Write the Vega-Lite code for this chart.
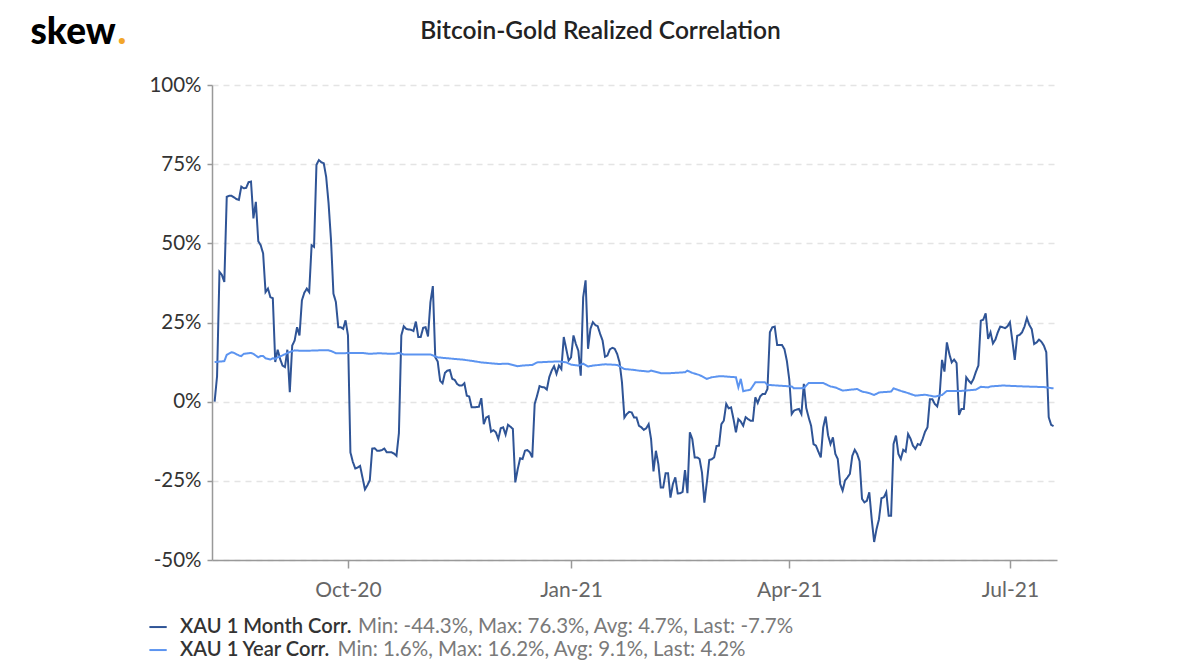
{
"$schema": "https://vega.github.io/schema/vega-lite/v6.json",
"autosize": "none",
"width": 845,
"height": 475,
"padding": {"left": 212, "top": 85, "right": 143, "bottom": 110},
"background": "white",
"config": {"font": "Lato", "view": {"stroke": null}},
"title": {"text": "Bitcoin-Gold Realized Correlation", "anchor": "middle", "frame": "group", "dx": -34, "dy": 31, "offset": 0, "font": "Lato", "fontSize": 24.5, "fontWeight": 600, "color": "#222"},
"data": {"values": [
{"date":"2020-08-07","series":"M","value":0},{"date":"2020-08-08","series":"M","value":8},{"date":"2020-08-09","series":"M","value":41},{"date":"2020-08-10","series":"M","value":40},{"date":"2020-08-11","series":"M","value":37.8},{"date":"2020-08-12","series":"M","value":64.7},{"date":"2020-08-13","series":"M","value":65},{"date":"2020-08-14","series":"M","value":65},{"date":"2020-08-15","series":"M","value":64.5},{"date":"2020-08-16","series":"M","value":64},{"date":"2020-08-17","series":"M","value":63.7},{"date":"2020-08-18","series":"M","value":67.9},{"date":"2020-08-19","series":"M","value":67.4},{"date":"2020-08-20","series":"M","value":67.5},{"date":"2020-08-21","series":"M","value":69.3},{"date":"2020-08-22","series":"M","value":69.5},{"date":"2020-08-23","series":"M","value":57.9},{"date":"2020-08-24","series":"M","value":63.1},{"date":"2020-08-25","series":"M","value":50.7},{"date":"2020-08-26","series":"M","value":49.4},{"date":"2020-08-27","series":"M","value":46.8},{"date":"2020-08-28","series":"M","value":34.6},{"date":"2020-08-29","series":"M","value":35.7},{"date":"2020-08-30","series":"M","value":33},{"date":"2020-08-31","series":"M","value":32.7},
{"date":"2020-09-01","series":"M","value":12.5},{"date":"2020-09-02","series":"M","value":16.4},{"date":"2020-09-03","series":"M","value":13.5},{"date":"2020-09-04","series":"M","value":11.4},{"date":"2020-09-05","series":"M","value":10.9},{"date":"2020-09-06","series":"M","value":16.4},{"date":"2020-09-07","series":"M","value":3},{"date":"2020-09-08","series":"M","value":17.7},{"date":"2020-09-09","series":"M","value":19.3},{"date":"2020-09-10","series":"M","value":23.5},{"date":"2020-09-11","series":"M","value":20.9},{"date":"2020-09-12","series":"M","value":32},{"date":"2020-09-13","series":"M","value":34.4},{"date":"2020-09-14","series":"M","value":35.7},{"date":"2020-09-15","series":"M","value":34.6},{"date":"2020-09-16","series":"M","value":49.4},{"date":"2020-09-17","series":"M","value":48.9},{"date":"2020-09-18","series":"M","value":74.8},{"date":"2020-09-19","series":"M","value":76.3},{"date":"2020-09-20","series":"M","value":75.6},{"date":"2020-09-21","series":"M","value":75.3},{"date":"2020-09-22","series":"M","value":71},{"date":"2020-09-23","series":"M","value":62.6},{"date":"2020-09-24","series":"M","value":51},{"date":"2020-09-25","series":"M","value":34.1},{"date":"2020-09-26","series":"M","value":31.5},{"date":"2020-09-27","series":"M","value":23.5},{"date":"2020-09-28","series":"M","value":23.5},{"date":"2020-09-29","series":"M","value":23},{"date":"2020-09-30","series":"M","value":25.7},
{"date":"2020-10-01","series":"M","value":20.9},{"date":"2020-10-02","series":"M","value":-16},{"date":"2020-10-03","series":"M","value":-19},{"date":"2020-10-04","series":"M","value":-21.1},{"date":"2020-10-05","series":"M","value":-20.8},{"date":"2020-10-06","series":"M","value":-20.3},{"date":"2020-10-07","series":"M","value":-24},{"date":"2020-10-08","series":"M","value":-27.7},{"date":"2020-10-09","series":"M","value":-26.4},{"date":"2020-10-10","series":"M","value":-24.8},{"date":"2020-10-11","series":"M","value":-14.8},{"date":"2020-10-12","series":"M","value":-14.7},{"date":"2020-10-13","series":"M","value":-15.5},{"date":"2020-10-14","series":"M","value":-15.5},{"date":"2020-10-15","series":"M","value":-15.3},{"date":"2020-10-16","series":"M","value":-14.8},{"date":"2020-10-17","series":"M","value":-16},{"date":"2020-10-18","series":"M","value":-16},{"date":"2020-10-19","series":"M","value":-16},{"date":"2020-10-20","series":"M","value":-16.4},{"date":"2020-10-21","series":"M","value":-17.1},{"date":"2020-10-22","series":"M","value":-10},{"date":"2020-10-23","series":"M","value":20.9},{"date":"2020-10-24","series":"M","value":23.8},{"date":"2020-10-25","series":"M","value":23},{"date":"2020-10-26","series":"M","value":22.8},{"date":"2020-10-27","series":"M","value":22.7},{"date":"2020-10-28","series":"M","value":22.3},{"date":"2020-10-29","series":"M","value":25.3},{"date":"2020-10-30","series":"M","value":20.4},{"date":"2020-10-31","series":"M","value":20.4},
{"date":"2020-11-01","series":"M","value":23.3},{"date":"2020-11-02","series":"M","value":23.5},{"date":"2020-11-03","series":"M","value":20.6},{"date":"2020-11-04","series":"M","value":31.4},{"date":"2020-11-05","series":"M","value":36.5},{"date":"2020-11-06","series":"M","value":14},{"date":"2020-11-07","series":"M","value":12.7},{"date":"2020-11-08","series":"M","value":6.6},{"date":"2020-11-09","series":"M","value":5.8},{"date":"2020-11-10","series":"M","value":9.1},{"date":"2020-11-11","series":"M","value":9.8},{"date":"2020-11-12","series":"M","value":10},{"date":"2020-11-13","series":"M","value":7.2},{"date":"2020-11-14","series":"M","value":6.9},{"date":"2020-11-15","series":"M","value":5.6},{"date":"2020-11-16","series":"M","value":5.1},{"date":"2020-11-17","series":"M","value":5.1},{"date":"2020-11-18","series":"M","value":5.8},{"date":"2020-11-19","series":"M","value":1.9},{"date":"2020-11-20","series":"M","value":1.6},{"date":"2020-11-21","series":"M","value":-1.8},{"date":"2020-11-22","series":"M","value":-1.8},{"date":"2020-11-23","series":"M","value":-1.7},{"date":"2020-11-24","series":"M","value":-1.6},{"date":"2020-11-25","series":"M","value":1.1},{"date":"2020-11-26","series":"M","value":-7.1},{"date":"2020-11-27","series":"M","value":-5},{"date":"2020-11-28","series":"M","value":-4.6},{"date":"2020-11-29","series":"M","value":-9.5},{"date":"2020-11-30","series":"M","value":-9},
{"date":"2020-12-01","series":"M","value":-9.7},{"date":"2020-12-02","series":"M","value":-11.8},{"date":"2020-12-03","series":"M","value":-8.4},{"date":"2020-12-04","series":"M","value":-8.1},{"date":"2020-12-05","series":"M","value":-10.4},{"date":"2020-12-06","series":"M","value":-7.3},{"date":"2020-12-07","series":"M","value":-7.9},{"date":"2020-12-08","series":"M","value":-8.6},{"date":"2020-12-09","series":"M","value":-25.5},{"date":"2020-12-10","series":"M","value":-21.3},{"date":"2020-12-11","series":"M","value":-17.9},{"date":"2020-12-12","series":"M","value":-18.1},{"date":"2020-12-13","series":"M","value":-15.5},{"date":"2020-12-14","series":"M","value":-15.3},{"date":"2020-12-15","series":"M","value":-16},{"date":"2020-12-16","series":"M","value":-17.6},{"date":"2020-12-17","series":"M","value":-0.7},{"date":"2020-12-18","series":"M","value":1.9},{"date":"2020-12-19","series":"M","value":4.9},{"date":"2020-12-20","series":"M","value":4.6},{"date":"2020-12-21","series":"M","value":4.5},{"date":"2020-12-22","series":"M","value":3.8},{"date":"2020-12-23","series":"M","value":7.7},{"date":"2020-12-24","series":"M","value":9.8},{"date":"2020-12-25","series":"M","value":11.2},{"date":"2020-12-26","series":"M","value":8.8},{"date":"2020-12-27","series":"M","value":11.4},{"date":"2020-12-28","series":"M","value":10.3},{"date":"2020-12-29","series":"M","value":20.4},{"date":"2020-12-30","series":"M","value":16.7},{"date":"2020-12-31","series":"M","value":13},
{"date":"2021-01-01","series":"M","value":14},{"date":"2021-01-02","series":"M","value":20.9},{"date":"2021-01-03","series":"M","value":18.2},{"date":"2021-01-04","series":"M","value":16.1},{"date":"2021-01-05","series":"M","value":8.2},{"date":"2021-01-06","series":"M","value":33},{"date":"2021-01-07","series":"M","value":38.3},{"date":"2021-01-08","series":"M","value":16.7},{"date":"2021-01-09","series":"M","value":23},{"date":"2021-01-10","series":"M","value":25.1},{"date":"2021-01-11","series":"M","value":24.2},{"date":"2021-01-12","series":"M","value":23.8},{"date":"2021-01-13","series":"M","value":21.4},{"date":"2021-01-14","series":"M","value":19.3},{"date":"2021-01-15","series":"M","value":14.2},{"date":"2021-01-16","series":"M","value":14.6},{"date":"2021-01-17","series":"M","value":16.5},{"date":"2021-01-18","series":"M","value":17},{"date":"2021-01-19","series":"M","value":16.7},{"date":"2021-01-20","series":"M","value":15.1},{"date":"2021-01-21","series":"M","value":12.4},{"date":"2021-01-22","series":"M","value":6.1},{"date":"2021-01-23","series":"M","value":-5},{"date":"2021-01-24","series":"M","value":-3.9},{"date":"2021-01-25","series":"M","value":-3.2},{"date":"2021-01-26","series":"M","value":-3.4},{"date":"2021-01-27","series":"M","value":-5},{"date":"2021-01-28","series":"M","value":-5},{"date":"2021-01-29","series":"M","value":-7.6},{"date":"2021-01-30","series":"M","value":-8.1},{"date":"2021-01-31","series":"M","value":-8.9},
{"date":"2021-02-01","series":"M","value":-8.4},{"date":"2021-02-02","series":"M","value":-7.1},{"date":"2021-02-03","series":"M","value":-11.8},{"date":"2021-02-04","series":"M","value":-22},{"date":"2021-02-05","series":"M","value":-15.5},{"date":"2021-02-06","series":"M","value":-19.7},{"date":"2021-02-07","series":"M","value":-27.1},{"date":"2021-02-08","series":"M","value":-27.1},{"date":"2021-02-09","series":"M","value":-22.6},{"date":"2021-02-10","series":"M","value":-22.6},{"date":"2021-02-11","series":"M","value":-30.3},{"date":"2021-02-12","series":"M","value":-26},{"date":"2021-02-13","series":"M","value":-23.9},{"date":"2021-02-14","series":"M","value":-29},{"date":"2021-02-15","series":"M","value":-28.9},{"date":"2021-02-16","series":"M","value":-28.5},{"date":"2021-02-17","series":"M","value":-21.6},{"date":"2021-02-18","series":"M","value":-28.9},{"date":"2021-02-19","series":"M","value":-9.7},{"date":"2021-02-20","series":"M","value":-11.8},{"date":"2021-02-21","series":"M","value":-17.6},{"date":"2021-02-22","series":"M","value":-17.6},{"date":"2021-02-23","series":"M","value":-18.1},{"date":"2021-02-24","series":"M","value":-22.4},{"date":"2021-02-25","series":"M","value":-31.9},{"date":"2021-02-26","series":"M","value":-25.5},{"date":"2021-02-27","series":"M","value":-18.4},{"date":"2021-02-28","series":"M","value":-18.2},
{"date":"2021-03-01","series":"M","value":-17.6},{"date":"2021-03-02","series":"M","value":-14},{"date":"2021-03-03","series":"M","value":-13.9},{"date":"2021-03-04","series":"M","value":-7.1},{"date":"2021-03-05","series":"M","value":-6},{"date":"2021-03-06","series":"M","value":-0.7},{"date":"2021-03-07","series":"M","value":-2.1},{"date":"2021-03-08","series":"M","value":-1.8},{"date":"2021-03-09","series":"M","value":-5.5},{"date":"2021-03-10","series":"M","value":-9.7},{"date":"2021-03-11","series":"M","value":-5.5},{"date":"2021-03-12","series":"M","value":-6.3},{"date":"2021-03-13","series":"M","value":-7.6},{"date":"2021-03-14","series":"M","value":-4.9},{"date":"2021-03-15","series":"M","value":-5.5},{"date":"2021-03-16","series":"M","value":-6},{"date":"2021-03-17","series":"M","value":-6},{"date":"2021-03-18","series":"M","value":1.4},{"date":"2021-03-19","series":"M","value":-0.4},{"date":"2021-03-20","series":"M","value":1.7},{"date":"2021-03-21","series":"M","value":2.4},{"date":"2021-03-22","series":"M","value":2.4},{"date":"2021-03-23","series":"M","value":4},{"date":"2021-03-24","series":"M","value":21.9},{"date":"2021-03-25","series":"M","value":23.5},{"date":"2021-03-26","series":"M","value":23.7},{"date":"2021-03-27","series":"M","value":17.9},{"date":"2021-03-28","series":"M","value":17.9},{"date":"2021-03-29","series":"M","value":17.9},{"date":"2021-03-30","series":"M","value":16.6},{"date":"2021-03-31","series":"M","value":12.9},
{"date":"2021-04-01","series":"M","value":7},{"date":"2021-04-02","series":"M","value":-3.9},{"date":"2021-04-03","series":"M","value":-2.8},{"date":"2021-04-04","series":"M","value":-2.5},{"date":"2021-04-05","series":"M","value":-2.3},{"date":"2021-04-06","series":"M","value":-3.9},{"date":"2021-04-07","series":"M","value":5.6},{"date":"2021-04-08","series":"M","value":-2},{"date":"2021-04-09","series":"M","value":-5},{"date":"2021-04-10","series":"M","value":-7.6},{"date":"2021-04-11","series":"M","value":-13.4},{"date":"2021-04-12","series":"M","value":-13.9},{"date":"2021-04-13","series":"M","value":-15.8},{"date":"2021-04-14","series":"M","value":-17.6},{"date":"2021-04-15","series":"M","value":-8.1},{"date":"2021-04-16","series":"M","value":-4.7},{"date":"2021-04-17","series":"M","value":-10.6},{"date":"2021-04-18","series":"M","value":-13.4},{"date":"2021-04-19","series":"M","value":-11.3},{"date":"2021-04-20","series":"M","value":-16.5},{"date":"2021-04-21","series":"M","value":-18.1},{"date":"2021-04-22","series":"M","value":-26},{"date":"2021-04-23","series":"M","value":-28.1},{"date":"2021-04-24","series":"M","value":-24.9},{"date":"2021-04-25","series":"M","value":-23.9},{"date":"2021-04-26","series":"M","value":-22.8},{"date":"2021-04-27","series":"M","value":-17.1},{"date":"2021-04-28","series":"M","value":-15.2},{"date":"2021-04-29","series":"M","value":-16.5},{"date":"2021-04-30","series":"M","value":-18.8},
{"date":"2021-05-01","series":"M","value":-30.7},{"date":"2021-05-02","series":"M","value":-31.8},{"date":"2021-05-03","series":"M","value":-31.3},{"date":"2021-05-04","series":"M","value":-28.6},{"date":"2021-05-05","series":"M","value":-37.1},{"date":"2021-05-06","series":"M","value":-44.3},{"date":"2021-05-07","series":"M","value":-40.2},{"date":"2021-05-08","series":"M","value":-37.1},{"date":"2021-05-09","series":"M","value":-30.5},{"date":"2021-05-10","series":"M","value":-30.2},{"date":"2021-05-11","series":"M","value":-28.6},{"date":"2021-05-12","series":"M","value":-36},{"date":"2021-05-13","series":"M","value":-36},{"date":"2021-05-14","series":"M","value":-13.4},{"date":"2021-05-15","series":"M","value":-10.7},{"date":"2021-05-16","series":"M","value":-16.5},{"date":"2021-05-17","series":"M","value":-18.1},{"date":"2021-05-18","series":"M","value":-15.2},{"date":"2021-05-19","series":"M","value":-15.8},{"date":"2021-05-20","series":"M","value":-10.2},{"date":"2021-05-21","series":"M","value":-11.7},{"date":"2021-05-22","series":"M","value":-13.9},{"date":"2021-05-23","series":"M","value":-14.9},{"date":"2021-05-24","series":"M","value":-13.4},{"date":"2021-05-25","series":"M","value":-13.7},{"date":"2021-05-26","series":"M","value":-11.8},{"date":"2021-05-27","series":"M","value":-9.5},{"date":"2021-05-28","series":"M","value":-8.1},{"date":"2021-05-29","series":"M","value":0.8},{"date":"2021-05-30","series":"M","value":0.8},{"date":"2021-05-31","series":"M","value":-0.7},
{"date":"2021-06-01","series":"M","value":-1.5},{"date":"2021-06-02","series":"M","value":1.9},{"date":"2021-06-03","series":"M","value":13.2},{"date":"2021-06-04","series":"M","value":9.5},{"date":"2021-06-05","series":"M","value":18.7},{"date":"2021-06-06","series":"M","value":15.1},{"date":"2021-06-07","series":"M","value":12.4},{"date":"2021-06-08","series":"M","value":13.3},{"date":"2021-06-09","series":"M","value":12.2},{"date":"2021-06-10","series":"M","value":-4.2},{"date":"2021-06-11","series":"M","value":-2.3},{"date":"2021-06-12","series":"M","value":-2.3},{"date":"2021-06-13","series":"M","value":7.7},{"date":"2021-06-14","series":"M","value":6.6},{"date":"2021-06-15","series":"M","value":5.8},{"date":"2021-06-16","series":"M","value":7.2},{"date":"2021-06-17","series":"M","value":9.5},{"date":"2021-06-18","series":"M","value":11.4},{"date":"2021-06-19","series":"M","value":25.6},{"date":"2021-06-20","series":"M","value":25.9},{"date":"2021-06-21","series":"M","value":27.9},{"date":"2021-06-22","series":"M","value":19.8},{"date":"2021-06-23","series":"M","value":21.9},{"date":"2021-06-24","series":"M","value":18.4},{"date":"2021-06-25","series":"M","value":19.6},{"date":"2021-06-26","series":"M","value":21.9},{"date":"2021-06-27","series":"M","value":23.7},{"date":"2021-06-28","series":"M","value":23.5},{"date":"2021-06-29","series":"M","value":23.2},{"date":"2021-06-30","series":"M","value":23.8},
{"date":"2021-07-01","series":"M","value":25.1},{"date":"2021-07-02","series":"M","value":19.3},{"date":"2021-07-03","series":"M","value":13.2},{"date":"2021-07-04","series":"M","value":20.8},{"date":"2021-07-05","series":"M","value":21.1},{"date":"2021-07-06","series":"M","value":21.9},{"date":"2021-07-07","series":"M","value":23.7},{"date":"2021-07-08","series":"M","value":26.4},{"date":"2021-07-09","series":"M","value":24.2},{"date":"2021-07-10","series":"M","value":22.9},{"date":"2021-07-11","series":"M","value":18.2},{"date":"2021-07-12","series":"M","value":18.7},{"date":"2021-07-13","series":"M","value":19.6},{"date":"2021-07-14","series":"M","value":18.9},{"date":"2021-07-15","series":"M","value":17.7},{"date":"2021-07-16","series":"M","value":15.6},{"date":"2021-07-17","series":"M","value":-4.9},{"date":"2021-07-18","series":"M","value":-7.3},{"date":"2021-07-19","series":"M","value":-7.7},
{"date":"2020-08-07","series":"Y","value":12.5},{"date":"2020-08-11","series":"Y","value":12.8},{"date":"2020-08-12","series":"Y","value":14.8},{"date":"2020-08-14","series":"Y","value":15.6},{"date":"2020-08-15","series":"Y","value":15.4},{"date":"2020-08-17","series":"Y","value":14.6},{"date":"2020-08-18","series":"Y","value":14.4},{"date":"2020-08-19","series":"Y","value":15.1},{"date":"2020-08-22","series":"Y","value":15.4},{"date":"2020-08-23","series":"Y","value":15.1},{"date":"2020-08-25","series":"Y","value":14},{"date":"2020-08-26","series":"Y","value":14.4},{"date":"2020-08-27","series":"Y","value":14.4},{"date":"2020-08-28","series":"Y","value":13.7},{"date":"2020-08-30","series":"Y","value":13.3},{"date":"2020-08-31","series":"Y","value":13.7},{"date":"2020-09-01","series":"Y","value":13.5},{"date":"2020-09-02","series":"Y","value":14},{"date":"2020-09-04","series":"Y","value":14.6},{"date":"2020-09-06","series":"Y","value":15.4},{"date":"2020-09-09","series":"Y","value":16.2},{"date":"2020-09-11","series":"Y","value":16.1},{"date":"2020-09-15","series":"Y","value":16.1},{"date":"2020-09-19","series":"Y","value":16.2},{"date":"2020-09-23","series":"Y","value":16.2},{"date":"2020-09-24","series":"Y","value":16},{"date":"2020-09-26","series":"Y","value":15.3},{"date":"2020-09-29","series":"Y","value":15.3},{"date":"2020-10-03","series":"Y","value":15.4},{"date":"2020-10-07","series":"Y","value":15.4},{"date":"2020-10-10","series":"Y","value":15.1},{"date":"2020-10-14","series":"Y","value":15.3},{"date":"2020-10-16","series":"Y","value":15.2},{"date":"2020-10-20","series":"Y","value":15.1},{"date":"2020-10-22","series":"Y","value":15.4},{"date":"2020-10-24","series":"Y","value":14.9},{"date":"2020-10-29","series":"Y","value":14.9},{"date":"2020-11-04","series":"Y","value":14.9},{"date":"2020-11-07","series":"Y","value":14},{"date":"2020-11-11","series":"Y","value":13.7},{"date":"2020-11-17","series":"Y","value":13.3},{"date":"2020-11-21","series":"Y","value":12.9},{"date":"2020-11-25","series":"Y","value":12.4},{"date":"2020-12-02","series":"Y","value":11.9},{"date":"2020-12-06","series":"Y","value":12},{"date":"2020-12-10","series":"Y","value":11.2},{"date":"2020-12-12","series":"Y","value":11.4},{"date":"2020-12-16","series":"Y","value":11.6},{"date":"2020-12-18","series":"Y","value":12.4},{"date":"2020-12-23","series":"Y","value":12.6},{"date":"2020-12-27","series":"Y","value":12.7},{"date":"2020-12-30","series":"Y","value":12.4},
{"date":"2021-01-01","series":"Y","value":11.7},{"date":"2021-01-04","series":"Y","value":11.4},{"date":"2021-01-06","series":"Y","value":12},{"date":"2021-01-08","series":"Y","value":11.1},{"date":"2021-01-10","series":"Y","value":11.4},{"date":"2021-01-15","series":"Y","value":11.8},{"date":"2021-01-20","series":"Y","value":11.6},{"date":"2021-01-23","series":"Y","value":10.3},{"date":"2021-01-26","series":"Y","value":10.1},{"date":"2021-01-29","series":"Y","value":9.8},{"date":"2021-02-02","series":"Y","value":9.5},{"date":"2021-02-03","series":"Y","value":9.8},{"date":"2021-02-07","series":"Y","value":9},{"date":"2021-02-11","series":"Y","value":9},{"date":"2021-02-17","series":"Y","value":9.3},{"date":"2021-02-18","series":"Y","value":9.8},{"date":"2021-02-20","series":"Y","value":9.1},{"date":"2021-02-23","series":"Y","value":8.4},{"date":"2021-02-26","series":"Y","value":7.2},{"date":"2021-02-28","series":"Y","value":7.7},{"date":"2021-03-03","series":"Y","value":8},{"date":"2021-03-05","series":"Y","value":8},{"date":"2021-03-10","series":"Y","value":7.7},{"date":"2021-03-11","series":"Y","value":4.5},{"date":"2021-03-12","series":"Y","value":7.2},{"date":"2021-03-13","series":"Y","value":3.3},{"date":"2021-03-16","series":"Y","value":3.8},{"date":"2021-03-18","series":"Y","value":6.1},{"date":"2021-03-22","series":"Y","value":6.1},{"date":"2021-03-23","series":"Y","value":5.3},{"date":"2021-03-27","series":"Y","value":5.1},{"date":"2021-04-02","series":"Y","value":4.8},{"date":"2021-04-03","series":"Y","value":4.2},{"date":"2021-04-07","series":"Y","value":4.3},{"date":"2021-04-09","series":"Y","value":5.9},{"date":"2021-04-15","series":"Y","value":5.9},{"date":"2021-04-18","series":"Y","value":4.8},{"date":"2021-04-20","series":"Y","value":4.5},{"date":"2021-04-23","series":"Y","value":3.5},{"date":"2021-04-29","series":"Y","value":4},{"date":"2021-05-01","series":"Y","value":3.2},{"date":"2021-05-04","series":"Y","value":2.7},{"date":"2021-05-06","series":"Y","value":2.1},{"date":"2021-05-08","series":"Y","value":2.9},{"date":"2021-05-13","series":"Y","value":3.2},{"date":"2021-05-14","series":"Y","value":4.2},{"date":"2021-05-17","series":"Y","value":3.4},{"date":"2021-05-20","series":"Y","value":2.7},{"date":"2021-05-23","series":"Y","value":1.9},{"date":"2021-05-27","series":"Y","value":2.2},{"date":"2021-05-31","series":"Y","value":1.6},{"date":"2021-06-03","series":"Y","value":2.1},{"date":"2021-06-05","series":"Y","value":3.4},{"date":"2021-06-11","series":"Y","value":3.4},{"date":"2021-06-17","series":"Y","value":3.8},{"date":"2021-06-19","series":"Y","value":4.7},{"date":"2021-06-22","series":"Y","value":4.5},{"date":"2021-06-23","series":"Y","value":4.8},{"date":"2021-06-28","series":"Y","value":5.1},{"date":"2021-07-07","series":"Y","value":4.8},{"date":"2021-07-15","series":"Y","value":4.6},{"date":"2021-07-19","series":"Y","value":4.2}
]},
"transform": [{"calculate": "datum.series", "as": "series2"}, {"calculate": "datum.series", "as": "series3"}],
"mark": {"type": "line"},
"encoding": {
  "x": {"field": "date", "type": "temporal",
    "scale": {"type": "utc", "domain": [{"year": 2020, "month": 8, "date": 5, "hours": 22, "utc": true}, {"year": 2021, "month": 7, "date": 20, "hours": 10, "utc": true}]},
    "axis": {"values": [{"year": 2020, "month": 10, "date": 1, "utc": true}, {"year": 2021, "month": 1, "date": 1, "utc": true}, {"year": 2021, "month": 4, "date": 1, "utc": true}, {"year": 2021, "month": 7, "date": 1, "utc": true}],
      "labelExpr": "utcFormat(datum.value, '%b-%y')", "labelFont": "Lato", "labelFontSize": 21, "labelColor": "#666", "labelPadding": 11, "labelFlush": false, "labelOverlap": false,
      "domainColor": "#999", "domainWidth": 1.5, "tickColor": "#999", "tickWidth": 1.5, "tickSize": 8, "grid": false,
      "title": ".", "titleX": -95, "titleY": -517, "titleAlign": "left", "titleBaseline": "alphabetic", "titleFont": "Lato", "titleFontSize": 37, "titleFontWeight": 900, "titleColor": "#f2a62a"}},
  "y": {"field": "value", "type": "quantitative",
    "scale": {"domain": [-50, 100], "nice": false, "zero": false},
    "axis": {"values": [-50, -25, 0, 25, 50, 75, 100], "labelExpr": "datum.value + '%'", "labelFont": "Lato", "labelFontSize": 20.5, "labelColor": "#333", "labelPadding": 6, "labelFlush": false, "labelOverlap": false,
      "domainColor": "#999", "domainWidth": 1.5, "tickColor": "#999", "tickWidth": 1.5, "tickSize": 5,
      "grid": true, "gridColor": "#e4e4e4", "gridDash": [6, 5], "gridWidth": 1.5,
      "title": "skew", "titleX": -182, "titleY": -42, "titleAngle": 0, "titleAlign": "left", "titleBaseline": "alphabetic", "titleFont": "Lato", "titleFontSize": 37, "titleFontWeight": 900, "titleColor": "#000"}},
  "color": {"field": "series", "type": "nominal",
    "scale": {"domain": ["M", "Y"], "range": ["#2f5496", "#5c94f0"]},
    "legend": {"orient": "none", "legendX": -64, "legendY": 532, "direction": "vertical", "title": null, "symbolType": "stroke", "symbolStrokeWidth": 2, "symbolSize": 300, "labelFont": "Lato", "labelFontSize": 20.1, "labelFontWeight": 600, "labelColor": "#333", "labelOffset": 12, "rowPadding": 2, "labelLimit": 0,
      "labelExpr": "datum.label == 'M' ? 'XAU 1 Month Corr.' : 'XAU 1 Year Corr.'"}},
  "strokeDash": {"field": "series2", "type": "nominal",
    "scale": {"range": [[1, 0], [1, 0]]},
    "legend": {"orient": "none", "legendX": -64, "legendY": 532, "direction": "vertical", "title": null, "symbolType": "stroke", "symbolStrokeWidth": 2, "symbolSize": 300, "symbolOpacity": 0, "labelFont": "Lato", "labelFontSize": 20.5, "labelColor": "#7a7a7a", "labelOffset": 189.5, "rowPadding": 2, "labelLimit": 0,
      "labelExpr": "datum.label == 'M' ? 'Min: -44.3%, Max: 76.3%, Avg: 4.7%, Last: -7.7%' : ''"}},
  "strokeWidth": {"field": "series3", "type": "nominal",
    "scale": {"range": [2, 2]},
    "legend": {"orient": "none", "legendX": -64, "legendY": 532, "direction": "vertical", "title": null, "symbolType": "stroke", "symbolStrokeWidth": 2, "symbolSize": 300, "symbolOpacity": 0, "labelFont": "Lato", "labelFontSize": 20.5, "labelColor": "#7a7a7a", "labelOffset": 169, "rowPadding": 2, "labelLimit": 0,
      "labelExpr": "datum.label == 'Y' ? 'Min: 1.6%, Max: 16.2%, Avg: 9.1%, Last: 4.2%' : ''"}}
}
}
